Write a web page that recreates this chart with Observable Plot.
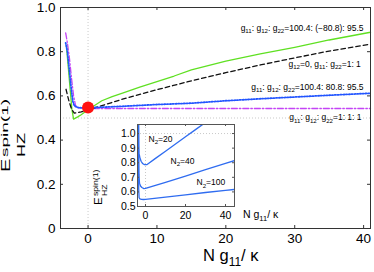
<!DOCTYPE html>
<html><head><meta charset="utf-8">
<script src="https://cdn.jsdelivr.net/npm/d3@7"></script>
<script src="https://cdn.jsdelivr.net/npm/@observablehq/plot@0.6"></script>
<style>
body{margin:0;background:#fff;}
#wrap{position:relative;width:374px;height:272px;font-family:"Liberation Sans",Arial,sans-serif;}
#main{position:absolute;left:0;top:0;}
#inset{position:absolute;left:90px;top:115px;}
</style></head><body><div id="wrap"><div id="main"></div><div id="inset"></div></div>
<script>
// ---------- data (main panel) ----------
const xTicks = [0, 10, 20, 30, 40];
const yTicks = [0, 0.2, 0.4, 0.6, 0.8, 1.0];
const yTickLabels = ["0", "0.2", "0.4", "0.6", "0.8", "1.0"];

// g11:g12:g22 = 100.4:(-80.8):95.5  (green solid)
const greenX = [-3.15,-2.9,-2.6,-2.35,-2.1,-1.5,-1,0,1,2,3.5,5,7.5,10,12.5,15,20,25,30,35,41];
const greenY = [0.83,0.74,0.63,0.54,0.495,0.505,0.515,0.537,0.558,0.578,0.597,0.613,0.64,0.665,0.69,0.718,0.757,0.79,0.82,0.853,0.888];
// g12=0, g11:g22=1:1  (black dashed)
const blackX = [-3.2,-2.8,-2.4,-2.0,-1,0,2,5,10,15,20,25,30,35,41];
const blackY = [0.63,0.58,0.54,0.522,0.528,0.537,0.556,0.585,0.628,0.668,0.705,0.74,0.772,0.803,0.834];
// g11:g12:g22 = 100.4:80.8:95.5  (blue dotted)
const blueX = [-3.25,-3.0,-2.7,-2.4,-2.2,-2.0,-1.6,-1,0,5,10,15,20,25,30,35,41];
const blueY = [0.84,0.8,0.71,0.62,0.575,0.556,0.548,0.546,0.546,0.553,0.561,0.567,0.578,0.587,0.595,0.603,0.612];
// g11:g12:g22 = 1:1:1  (magenta dash-dot)
const magX = [-3.25,-3.0,-2.7,-2.4,-2.1,-1.8,-1.4,0,10,20,30,41];
const magY = [0.885,0.84,0.77,0.68,0.6,0.555,0.546,0.543,0.543,0.543,0.543,0.543];
// red marker
const redX = [0];
const redY = [0.547];

// curve labels
const labStr = [
  "g_{11}: g_{12}: g_{22}=100.4: (\u221280.8): 95.5",
  "g_{12}=0, g_{11}: g_{22}=1: 1",
  "g_{11}: g_{12}: g_{22}=100.4: 80.8: 95.5",
  "g_{11}: g_{12}: g_{22}=1: 1: 1"
];
const labX = [40, 39.6, 40, 39.7];
const labY = [0.908, 0.745, 0.641, 0.502];

// ---------- data (inset) ----------
const inXTicks = [0, 20, 40];
const inYTicks = [0.5, 0.6, 0.7, 0.8, 0.9, 1.0];
const n20X = [-3.6,-3.4,-3.3,-3.1,-2.8,-2.2,-1.5,-0.5,0.8,5,10,15,20,25,30];
const n20Y = [1.3,0.92,0.84,0.855,0.835,0.81,0.795,0.787,0.788,0.83,0.879,0.928,0.978,1.027,1.076];
const n40X = [-3.6,-3.45,-3.3,-3.0,-2.5,-1.8,-0.8,0,5,10,20,30,40,44.5];
const n40Y = [1.3,0.9,0.72,0.66,0.64,0.63,0.623,0.624,0.645,0.666,0.709,0.752,0.795,0.815];
const n100X = [-3.6,-3.5,-3.4,-3.2,-2.8,-2,-1,0,10,20,30,40,44.5];
const n100Y = [1.3,0.9,0.62,0.56,0.552,0.549,0.548,0.549,0.564,0.58,0.596,0.611,0.617];
const inLabStr = ["N_{2}=20", "N_{2}=40", "N_{2}=100"];
const inLabX = [1.5, 12.5, 25.5];
const inLabY = [0.96, 0.81, 0.665];

// ---------- helpers ----------
const pts = (xs, ys) => xs.map((x, i) => ({x, y: ys[i]}));
const FONT = "Liberation Sans, Arial, Helvetica, sans-serif";

function richify(el, size) {
  const str = el.textContent;
  const t = d3.select(el);
  t.text(null);
  const re = /([_^])\{([^}]*)\}/g;
  let last = 0, m; const segs = [];
  while ((m = re.exec(str))) {
    if (m.index > last) segs.push([str.slice(last, m.index), 0]);
    segs.push([m[2], m[1] === "_" ? 1 : -1]);
    last = re.lastIndex;
  }
  if (last < str.length) segs.push([str.slice(last), 0]);
  let cur = 0;
  for (const [s, k] of segs) {
    const target = k === 1 ? size * 0.28 : k === -1 ? -size * 0.4 : 0;
    const ts = t.append("tspan").text(s).attr("dy", target - cur);
    if (k) ts.attr("font-size", size * 0.72);
    cur = target;
  }
}

function richifyAll(svg, size) {
  svg.selectAll("text").filter(function() { return /[_^]\{/.test(this.textContent); })
    .each(function() { richify(this, size); });
}

function addLabel(svg, x, y, str, size) {
  const t = svg.append("text").attr("x", x).attr("y", y)
    .attr("font-size", size).attr("font-family", FONT).attr("fill", "#000")
    .attr("text-anchor", "start")
    .text(str);
  richify(t.node(), size);
  return t;
}

function addRot(svg, x, y, str, size, stretch) {
  svg.append("text")
    .attr("transform", `translate(${x},${y}) rotate(-90) scale(${stretch},1)`)
    .attr("font-size", size).attr("font-family", FONT).attr("fill", "#000")
    .attr("text-anchor", "start")
    .text(str);
}

// ---------- main plot ----------
const W = 374, H = 272, mL = 60, mR = 4, mT = 7, mB = 44;
const fw = W - mL - mR, fh = H - mT - mB;
const tick = 3;

const main = Plot.plot({
  width: W, height: H,
  marginLeft: mL, marginRight: mR, marginTop: mT, marginBottom: mB,
  x: {domain: [-4, 41]},
  y: {domain: [0, 1]},
  style: {fontFamily: FONT, fontSize: "13.5px", background: "white", color: "#000", overflow: "visible"},
  marks: [
    Plot.ruleX([0], {stroke: "#bbb", strokeDasharray: "1,2", strokeWidth: 0.8}),
    Plot.ruleY([0.5], {stroke: "#bbb", strokeDasharray: "1,2", strokeWidth: 0.8}),
    Plot.line(pts(magX, magY), {x: "x", y: "y", stroke: "#c444f5", strokeWidth: 1.3, strokeDasharray: "6,2,1.5,2"}),
    Plot.line(pts(greenX, greenY), {x: "x", y: "y", stroke: "#5fe022", strokeWidth: 1.3}),
    Plot.line(pts(blackX, blackY), {x: "x", y: "y", stroke: "#111", strokeWidth: 1.3, strokeDasharray: "4.5,3"}),
    Plot.line(pts(blueX, blueY), {x: "x", y: "y", stroke: "#2255ff", strokeWidth: 1.8, strokeDasharray: "1.2,1.6"}),
    Plot.dot(pts(redX, redY), {x: "x", y: "y", r: 6, fill: "#ff1111", stroke: "none"}),
    Plot.frame({stroke: "#333"}),
    Plot.tickX(xTicks, {x: d => d, insetTop: fh - tick, stroke: "#333"}),
    Plot.tickX(xTicks, {x: d => d, insetBottom: fh - tick, stroke: "#333"}),
    Plot.tickY(yTicks, {y: d => d, insetRight: fw - tick, stroke: "#333"}),
    Plot.tickY(yTicks, {y: d => d, insetLeft: fw - tick, stroke: "#333"}),
    Plot.axisX({ticks: xTicks, tickSize: 0, tickPadding: 5, label: null}),
    Plot.axisY({ticks: yTicks, tickSize: 0, tickPadding: 5, label: null,
      tickFormat: d => yTickLabels[yTicks.indexOf(d)]}),
    Plot.text(labStr.map((s, i) => i), {x: i => labX[i], y: i => labY[i], text: i => labStr[i],
      textAnchor: "end", fontSize: 8.5, fill: "#000"})
  ]
});
document.getElementById("main").appendChild(main);
const msvg = d3.select(main);
richifyAll(msvg, 8.5);
// axis labels
addLabel(msvg, 203, 261, "N g_{11}/ \u03ba", 16.5);
addRot(msvg, 10, 172, "E", 12.5, 1.6);
addRot(msvg, 8, 157, "spin(1)", 9.5, 2.0);
addRot(msvg, 25, 157, "HZ", 10, 1.8);

// ---------- inset plot ----------
const iW = 200, iH = 110, iL = 47, iR = 56, iT = 9, iB = 19;
const ifw = iW - iL - iR, ifh = iH - iT - iB;
const itick = 2;
const inset = Plot.plot({
  width: iW, height: iH,
  marginLeft: iL, marginRight: iR, marginTop: iT, marginBottom: iB,
  x: {domain: [-4, 44.5]},
  y: {domain: [0.5, 1.062]},
  style: {fontFamily: FONT, fontSize: "10.5px", background: "transparent", color: "#000", overflow: "visible"},
  marks: [
    Plot.frame({fill: "white", stroke: "none"}),
    Plot.ruleY([1.0], {stroke: "#bbb", strokeDasharray: "1,2", strokeWidth: 0.8}),
    Plot.ruleX([0], {stroke: "#bbb", strokeDasharray: "1,2", strokeWidth: 0.8}),
    Plot.line(pts(n20X, n20Y), {x: "x", y: "y", stroke: "#2f6cf0", strokeWidth: 1.3, clip: true}),
    Plot.line(pts(n40X, n40Y), {x: "x", y: "y", stroke: "#2f6cf0", strokeWidth: 1.3, clip: true}),
    Plot.line(pts(n100X, n100Y), {x: "x", y: "y", stroke: "#2f6cf0", strokeWidth: 1.3, clip: true}),
    Plot.frame({stroke: "#555"}),
    Plot.tickX(inXTicks, {x: d => d, insetTop: ifh - itick, stroke: "#555"}),
    Plot.tickX(inXTicks, {x: d => d, insetBottom: ifh - itick, stroke: "#555"}),
    Plot.tickY(inYTicks, {y: d => d, insetRight: ifw - itick, stroke: "#555"}),
    Plot.tickY(inYTicks, {y: d => d, insetLeft: ifw - itick, stroke: "#555"}),
    Plot.axisX({ticks: inXTicks, tickSize: 0, tickPadding: 5, label: null}),
    Plot.axisY({ticks: inYTicks, tickSize: 0, tickPadding: 2, label: null, tickFormat: d => d.toFixed(1)}),
    Plot.text(inLabStr.map((s, i) => i), {x: i => inLabX[i], y: i => inLabY[i], text: i => inLabStr[i],
      textAnchor: "start", fontSize: 8.5, fill: "#000"})
  ]
});
document.getElementById("inset").appendChild(inset);
const isvg = d3.select(inset);
richifyAll(isvg, 8.5);
addLabel(isvg, 243 - 90, 218 - 115, "N g_{11}/ \u03ba", 10.5);
addRot(isvg, 101.5 - 90, 205 - 115, "E", 10, 1.15);
addRot(isvg, 98 - 90, 196 - 115, "spin(1)", 7.5, 1.15);
addRot(isvg, 107 - 90, 196 - 115, "HZ", 7.5, 1.15);
</script></body></html>
